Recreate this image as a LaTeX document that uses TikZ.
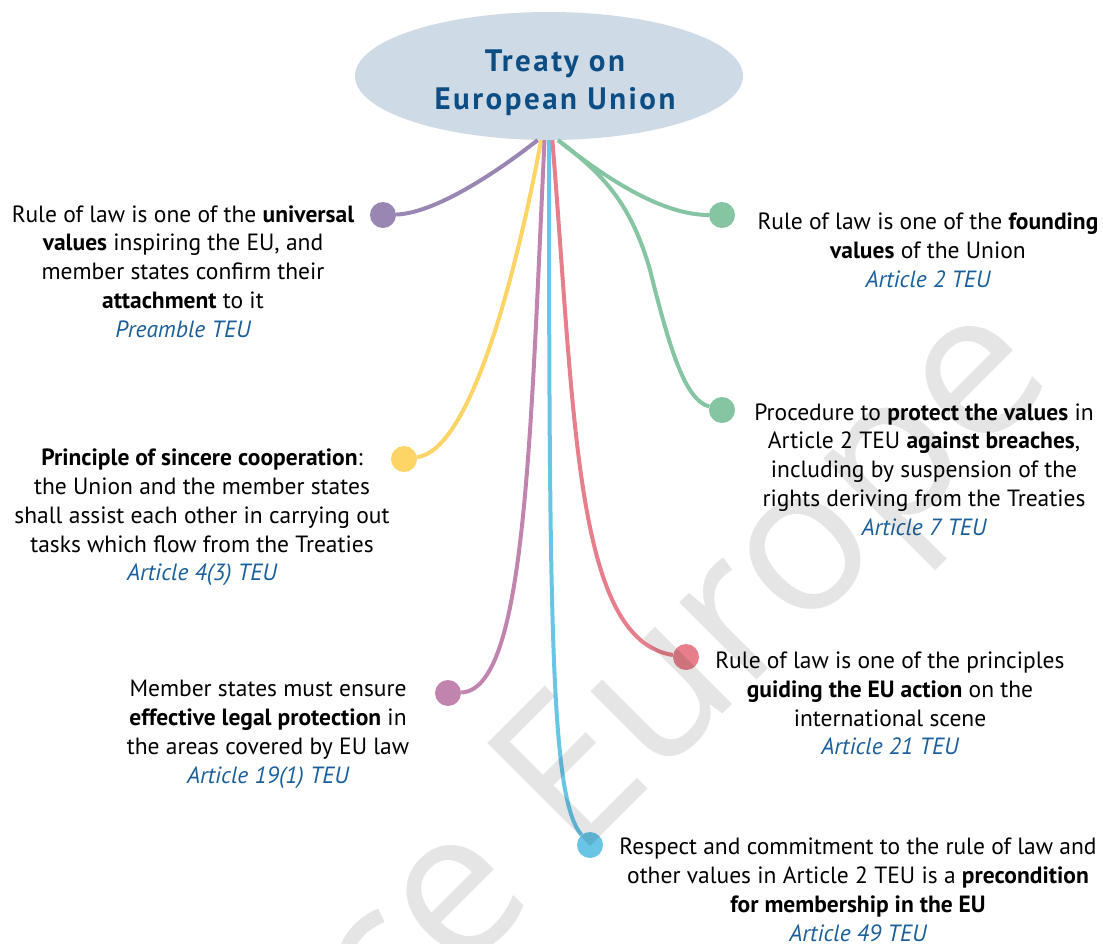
\documentclass[tikz,border=0pt]{standalone}
\usepackage{fontspec}
\setmainfont{PT Sans}
\newfontfamily\markfont{Open Sans}
\usetikzlibrary{shapes.geometric}
\definecolor{ovalfill}{HTML}{CEDAE6}
\definecolor{titleblue}{HTML}{0C4E84}
\definecolor{artblue}{HTML}{1A5E9A}
\definecolor{cpurple}{HTML}{9A86B2}
\definecolor{cgreen}{HTML}{86C5A1}
\definecolor{cyellow}{HTML}{FDD466}
\definecolor{cmauve}{HTML}{C084AF}
\definecolor{cred}{HTML}{E67F8B}
\definecolor{ccyan}{HTML}{68C5E6}
\newcommand{\art}[1]{\textcolor{artblue}{\itshape #1}}

\begin{document}
\begin{tikzpicture}[x=1pt,y=-1pt,
  every node/.style={font=\fontsize{23.5}{28.8}\selectfont},
  txt/.style={align=center, inner sep=0},
  bead/.style={circle, fill=#1, minimum size=26, inner sep=0},
  stem/.style={line width=4, draw=#1}]
\useasboundingbox (0,0) rectangle (1103,943);
\clip (0,0) rectangle (1103,943);

% central oval
\node[ellipse, fill=ovalfill, minimum width=388, minimum height=128, inner sep=0] (teu) at (549,76) {};
\node[align=center, inner sep=0, text=titleblue,
  font=\fontsize{31}{37.5}\selectfont\bfseries\addfontfeature{LetterSpace=8}] (ttl) at (555,82.5)
  {Treaty on\\European Union};

% end points
\node[bead=cpurple] (pur) at (383,215) {};
\node[bead=cgreen] (gr1) at (722,215) {};
\node[bead=cgreen] (gr2) at (722,410) {};
\node[bead=cyellow] (yel) at (404,459) {};
\node[bead=cmauve] (mau) at (448,693) {};
\node[bead=cred] (red) at (686,657) {};
\node[bead=ccyan] (cya) at (590,845) {};

% stems
\draw[stem=cpurple] (teu.-100.6) .. controls (510,162) and (440,213) .. (pur);
\draw[stem=cyellow] (teu.-97) .. controls (515,280) and (470,450) .. (yel);
\draw[stem=cmauve] (teu.-94.5) .. controls (530,450) and (525,690) .. (mau);
\draw[stem=ccyan] (teu.-90) .. controls (549,650) and (552,800) .. (cya);
\draw[stem=cred] (teu.-87.3) .. controls (575,420) and (575,640) .. (red);
\draw[stem=cgreen] (teu.-82) .. controls (620,190) and (670,215) .. (gr1);
\draw[stem=cgreen] (teu.-82) .. controls (600,172) and (630,200) .. (650,270)
  .. controls (670,350) and (685,400) .. (gr2);

% texts
\node[txt] (t1) at (183,271.5) {Rule of law is one of the \textbf{universal}\\
  \textbf{values} inspiring the EU, and\\member states confirm their\\
  \textbf{attachment} to it\\\art{Preamble TEU}};
\node[txt] (t2) at (928,250) {Rule of law is one of the \textbf{founding}\\
  \textbf{values} of the Union\\\art{Article 2 TEU}};
\node[txt] (t3) at (924,469.5) {Procedure to \textbf{protect the values} in\\
  Article 2 TEU \textbf{against breaches},\\including by suspension of the\\
  rights deriving from the Treaties\\\art{Article 7 TEU}};
\node[txt] (t4) at (202,517.5) {\textbf{Principle of sincere cooperation}:\\
  the Union and the member states\\shall assist each other in carrying out\\
  tasks which flow from the Treaties\\\art{Article 4(3) TEU}};
\node[txt] (t5) at (268,734.5) {Member states must ensure\\
  \textbf{effective legal protection} in\\the areas covered by EU law\\
  \art{Article 19(1) TEU}};
\node[txt] (t6) at (890,703.5) {Rule of law is one of the principles\\
  \textbf{guiding the EU action} on the\\international scene\\\art{Article 21 TEU}};
\node[txt] (t7) at (858,890) {Respect and commitment to the rule of law and\\
  other values in Article 2 TEU is a \textbf{precondition}\\
  \textbf{for membership in the EU}\\\art{Article 49 TEU}};

% watermark
\node[inner sep=0, anchor=base west, rotate=45, text=black, text opacity=0.1,
  font=\markfont\fontsize{204}{204}\selectfont] (mark) at (576,861) {\llap{Science }Europe};
\end{tikzpicture}
\end{document}
